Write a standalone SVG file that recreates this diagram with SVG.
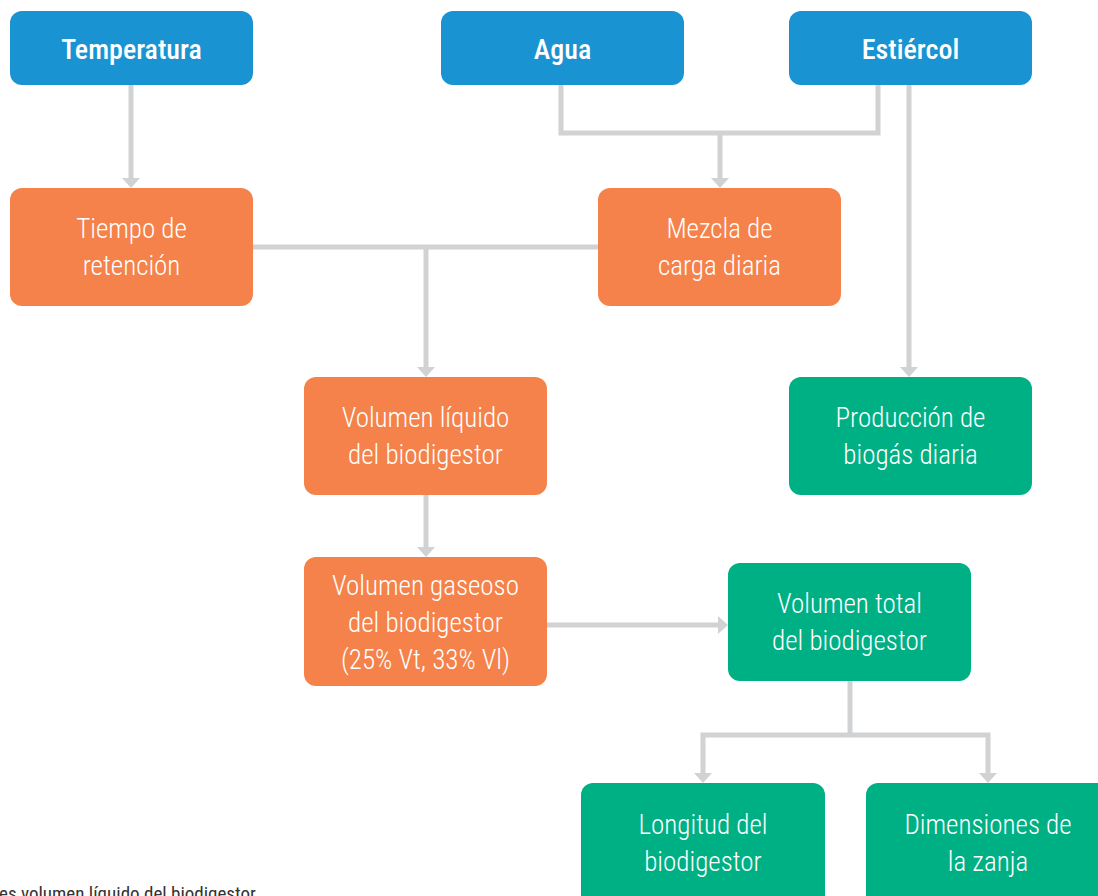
<svg xmlns="http://www.w3.org/2000/svg" width="1098" height="896" viewBox="0 0 1098 896">
<style>
.blue{fill:#1a93d2}
.orange{fill:#f4824a}
.green{fill:#00b085}
.t{font-family:"Roboto Condensed",Roboto,"Liberation Sans",sans-serif;font-weight:300;font-stretch:condensed;font-size:27px;fill:#ffffff;text-anchor:middle}
.h{font-family:"Roboto Condensed",Roboto,"Liberation Sans",sans-serif;font-weight:500;font-stretch:condensed;font-size:28px;fill:#ffffff;text-anchor:middle}
.c{fill:none;stroke:#d1d2d4;stroke-width:5}
.a{fill:#d1d2d4}
.foot{font-family:"Roboto Condensed",Roboto,"Liberation Sans",sans-serif;font-stretch:condensed;font-size:19px;fill:#333333}
</style>
<g id="connectors">
<path class="c" d="M131,85 V180"/>
<polygon class="a" points="122,178 140,178 131,188"/>
<path class="c" d="M561,85 V133 H878 V85"/>
<path class="c" d="M720,133 V180"/>
<polygon class="a" points="711,178 729,178 720,188"/>
<path class="c" d="M909,85 V369"/>
<polygon class="a" points="900,367 918,367 909,377"/>
<path class="c" d="M253,247 H598"/>
<path class="c" d="M426,247 V369"/>
<polygon class="a" points="417,367 435,367 426,377"/>
<path class="c" d="M426,495 V549"/>
<polygon class="a" points="417,547 435,547 426,557"/>
<path class="c" d="M547,625 H720"/>
<polygon class="a" points="718,616 718,634 728,625"/>
<path class="c" d="M850,681 V735"/>
<path class="c" d="M703,775 V735 H988 V775"/>
<polygon class="a" points="694,773 712,773 703,783"/>
<polygon class="a" points="979,773 997,773 988,783"/>
</g>
<g id="temperatura">
<rect class="blue" x="10" y="11" width="243" height="74" rx="12"/>
<text class="h" x="131.5" y="59">Temperatura</text>
</g>
<g id="agua">
<rect class="blue" x="441" y="11" width="243" height="74" rx="12"/>
<text class="h" x="562.5" y="59">Agua</text>
</g>
<g id="estiercol">
<rect class="blue" x="789" y="11" width="243" height="74" rx="12"/>
<text class="h" x="910.5" y="59">Estiércol</text>
</g>
<g id="tiempo">
<rect class="orange" x="10" y="188" width="243" height="118" rx="12"/>
<text class="t" x="131.5" y="238">Tiempo de</text>
<text class="t" x="131.5" y="275">retención</text>
</g>
<g id="mezcla">
<rect class="orange" x="598" y="188" width="243" height="118" rx="12"/>
<text class="t" x="719.5" y="238">Mezcla de</text>
<text class="t" x="719.5" y="275">carga diaria</text>
</g>
<g id="volumen-liquido">
<rect class="orange" x="304" y="377" width="243" height="118" rx="12"/>
<text class="t" x="425.5" y="427">Volumen líquido</text>
<text class="t" x="425.5" y="464">del biodigestor</text>
</g>
<g id="produccion">
<rect class="green" x="789" y="377" width="243" height="118" rx="12"/>
<text class="t" x="910.5" y="427">Producción de</text>
<text class="t" x="910.5" y="464">biogás diaria</text>
</g>
<g id="volumen-gaseoso">
<rect class="orange" x="304" y="557" width="243" height="129" rx="12"/>
<text class="t" x="425.5" y="595">Volumen gaseoso</text>
<text class="t" x="425.5" y="632">del biodigestor</text>
<text class="t" x="425.5" y="669">(25% Vt, 33% Vl)</text>
</g>
<g id="volumen-total">
<rect class="green" x="728" y="563" width="243" height="118" rx="12"/>
<text class="t" x="849.5" y="613">Volumen total</text>
<text class="t" x="849.5" y="650">del biodigestor</text>
</g>
<g id="longitud">
<rect class="green" x="581" y="783" width="244" height="125" rx="12"/>
<text class="t" x="703" y="834">Longitud del</text>
<text class="t" x="703" y="871">biodigestor</text>
</g>
<g id="dimensiones">
<rect class="green" x="866" y="783" width="243" height="125" rx="12"/>
<text class="t" x="988" y="834">Dimensiones de</text>
<text class="t" x="988" y="871">la zanja</text>
</g>
<text class="foot" x="-1" y="900">es volumen líquido del biodigestor</text>
</svg>
